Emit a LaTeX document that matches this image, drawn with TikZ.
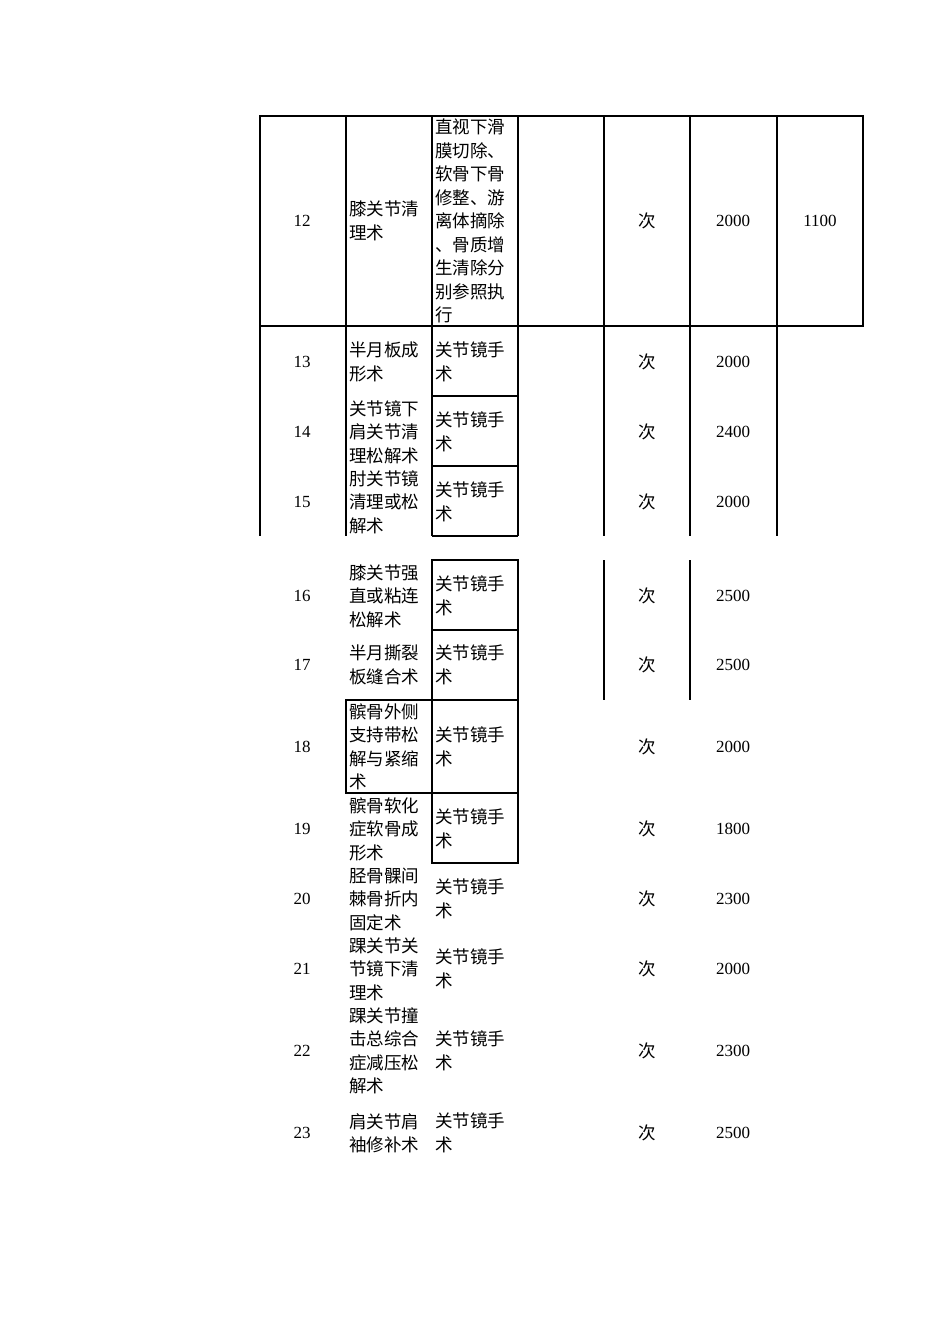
\documentclass[tikz,border=0pt]{standalone}
\usepackage{fontspec}
\setmainfont{Liberation Serif}
\newfontfamily\cjk{Noto Sans CJK SC}
\begin{document}
\begin{tikzpicture}[x=1pt,y=-1pt,
  grid/.style={line width=1.4pt,black},
  num/.style={font=\fontsize{17}{20}\selectfont,anchor=center},
  txt/.style={font=\cjk\fontsize{17.5}{23.5}\selectfont,anchor=west,align=left,inner sep=0pt}]
\useasboundingbox (0,0) rectangle (950,1344);
% row 12 full grid
\draw[grid] (260,116) rectangle (863,326);
\foreach \x in {346,432,518,604,690,777} \draw[grid] (\x,116) -- (\x,326);
% rows 13-15
\foreach \x in {260,346,432,518,604,690,777} \draw[grid] (\x,326) -- (\x,536);
\foreach \y in {396,466,536} \draw[grid] (432,\y) -- (518,\y);
% rows 16-17
\draw[grid] (432,560) rectangle (518,700);
\draw[grid] (432,630) -- (518,630);
\draw[grid] (604,560) -- (604,700);
\draw[grid] (690,560) -- (690,700);
% row 18-19
\draw[grid] (346,700) rectangle (518,793);
\draw[grid] (432,700) -- (432,793);
\draw[grid] (432,793) rectangle (518,863);
% texts
\node[txt] (t12b) at (349,221) {膝关节清\\理术};
\node[txt] (t12c) at (435,221) {直视下滑\\膜切除、\\软骨下骨\\修整、游\\离体摘除\\、骨质增\\生清除分\\别参照执\\行};
\node[num] (n12a) at (820,221) {1100};
\foreach \n/\y/\name/\p in {
 12/221/{}/2000,
 13/362/{半月板成\\形术}/2000,
 14/432/{关节镜下\\肩关节清\\理松解术}/2400,
 15/502/{肘关节镜\\清理或松\\解术}/2000,
 16/596/{膝关节强\\直或粘连\\松解术}/2500,
 17/665/{半月撕裂\\板缝合术}/2500,
 18/747/{髌骨外侧\\支持带松\\解与紧缩\\术}/2000,
 19/829/{髌骨软化\\症软骨成\\形术}/1800,
 20/899/{胫骨髁间\\棘骨折内\\固定术}/2300,
 21/969/{踝关节关\\节镜下清\\理术}/2000,
 22/1051/{踝关节撞\\击总综合\\症减压松\\解术}/2300,
 23/1133/{肩关节肩\\袖修补术}/2500}{
  \node[num] (n\n) at (302,\y) {\n};
  \node[txt] (b\n) at (349,\y) {\name};
  \node[txt,font=\cjk\fontsize{17.5}{23.5}\selectfont] (u\n) at (638,\y) {次};
  \node[num] (p\n) at (733,\y) {\p};
}
\foreach \n/\y in {13/362,14/432,15/502,16/596,17/665,18/747,19/829,20/899,21/969,22/1051,23/1133}
  \node[txt] (c\n) at (435,\y) {关节镜手\\术};
\end{tikzpicture}
\end{document}
